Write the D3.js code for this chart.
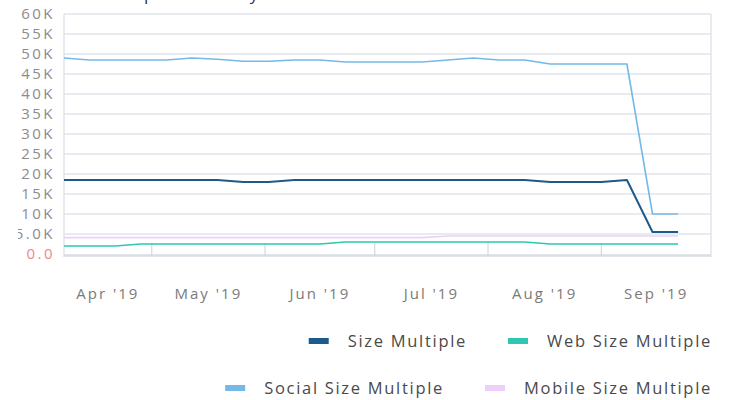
<!DOCTYPE html>
<html>
<head>
<meta charset="UTF-8" />
<script src="https://d3js.org/d3.v7.min.js"></script>
<style>
  body { margin: 0; background: #fff; font-family: "Open Sans", sans-serif; }
  svg text { font-family: "Open Sans", sans-serif; }
  .grid line { stroke: #e1e5eb; stroke-width: 1.5px; }
  .ylab { fill: #8c8c8c; font-size: 15px; letter-spacing: 2.5px; }
  .xlab { fill: #7a7a7a; font-size: 15px; letter-spacing: 2px; }
  .leg text { fill: #4a4a4a; font-size: 16.5px; letter-spacing: 1.7px; }
</style>
</head>
<body>
<svg width="730" height="400"></svg>
<script>
// weekly points, Sunday Apr 7 2019 .. Sep 22 2019
const weeks = ["2019-04-07","2019-04-14","2019-04-21","2019-04-28","2019-05-05","2019-05-12",
  "2019-05-19","2019-05-26","2019-06-02","2019-06-09","2019-06-16","2019-06-23","2019-06-30",
  "2019-07-07","2019-07-14","2019-07-21","2019-07-28","2019-08-04","2019-08-11","2019-08-18",
  "2019-08-25","2019-09-01","2019-09-08","2019-09-15","2019-09-22"];

const sizeMultiple   = [18.5,18.5,18.5,18.5,18.5,18.5,18.5,18.0,18.0,18.5,18.5,18.5,18.5,
  18.5,18.5,18.5,18.5,18.5,18.5,18.0,18.0,18.0,18.5,5.5,5.5];
const webMultiple    = [2.0,2.0,2.0,2.5,2.5,2.5,2.5,2.5,2.5,2.5,2.5,3.0,3.0,
  3.0,3.0,3.0,3.0,3.0,3.0,2.5,2.5,2.5,2.5,2.5,2.5];
const socialMultiple = [49.0,48.5,48.5,48.5,48.5,49.0,48.7,48.2,48.2,48.5,48.5,48.0,48.0,
  48.0,48.0,48.5,49.0,48.5,48.5,47.5,47.5,47.5,47.5,10.0,10.0];
const mobileMultiple = [4.1,4.1,4.1,4.1,4.1,4.1,4.1,4.1,4.1,4.1,4.1,4.1,4.1,
  4.1,4.1,4.5,4.5,4.5,4.5,4.5,4.5,4.5,4.5,4.5,4.5];

const yTicks = [0,5,10,15,20,25,30,35,40,45,50,55,60];
const yTickLabels = ["0.0","5.0K","10K","15K","20K","25K","30K","35K","40K","45K","50K","55K","60K"];
const monthStarts = ["2019-05-01","2019-06-01","2019-07-01","2019-08-01","2019-09-01"];
const monthLabels = ["Apr '19","May '19","Jun '19","Jul '19","Aug '19","Sep '19"];

const series = [
  { name: "Size Multiple", values: sizeMultiple, color: "#1d5a8c", width: 2 },
  { name: "Web Size Multiple", values: webMultiple, color: "#2ec7b1", width: 1.6 },
  { name: "Social Size Multiple", values: socialMultiple, color: "#74b9e7", width: 1.6 },
  { name: "Mobile Size Multiple", values: mobileMultiple, color: "#ecd0f8", width: 1.6 }
];

const parse = d3.utcParse("%Y-%m-%d");
const dates = weeks.map(parse);

const svg = d3.select("svg");
const plotLeft = 64, plotRight = 711, plotTop = 14, plotBottom = 254;

const x = d3.scaleUtc().domain([parse("2019-04-07"), parse("2019-10-01")]).range([plotLeft, plotRight]);
const y = d3.scaleLinear().domain([0, 60]).range([plotBottom, plotTop]);

// title, sitting above the top edge so only its descenders show
svg.append("text").attr("x", 47).attr("y", 0)
  .attr("font-size", 17).attr("fill", "#333").attr("letter-spacing", 2.1)
  .text("Size Multiples Weekly");

// gridlines
svg.append("g").attr("class", "grid")
  .selectAll("line").data(yTicks.slice(1)).join("line")
  .attr("x1", plotLeft).attr("x2", plotRight)
  .attr("y1", d => y(d)).attr("y2", d => y(d));

// frame
svg.append("line").attr("x1", plotLeft).attr("x2", plotLeft).attr("y1", plotTop).attr("y2", 257)
  .attr("stroke", "#e1e5eb").attr("stroke-width", 1.5);
svg.append("line").attr("x1", plotRight).attr("x2", plotRight).attr("y1", plotTop).attr("y2", 257)
  .attr("stroke", "#e1e5eb").attr("stroke-width", 1.5);
svg.append("line").attr("x1", plotLeft).attr("x2", plotRight).attr("y1", 255.5).attr("y2", 255.5)
  .attr("stroke", "#d9dee5").attr("stroke-width", 2.5);

// month tick marks
svg.append("g").selectAll("line").data(monthStarts.map(parse)).join("line")
  .attr("x1", d => x(d)).attr("x2", d => x(d))
  .attr("y1", 243).attr("y2", 256)
  .attr("stroke", "#d3d8df").attr("stroke-width", 1.2);

// y labels, clipped on the left like the original
svg.append("clipPath").attr("id", "ylabclip")
  .append("rect").attr("x", 18).attr("y", 0).attr("width", 50).attr("height", 280);
svg.append("g").attr("clip-path", "url(#ylabclip)")
  .selectAll("text").data(yTicks).join("text")
  .attr("class", "ylab")
  .attr("x", 55).attr("y", d => y(d)).attr("dy", "0.36em")
  .attr("text-anchor", "end")
  .style("fill", d => d === 0 ? "#f2888a" : null)
  .text((d, i) => yTickLabels[i]);

// x labels centred in each visible month span
const bounds = [x.domain()[0], ...monthStarts.map(parse), x.domain()[1]];
svg.append("g").selectAll("text").data(monthLabels).join("text")
  .attr("class", "xlab")
  .attr("x", (d, i) => (x(bounds[i]) + x(bounds[i + 1])) / 2)
  .attr("y", 299)
  .attr("text-anchor", "middle")
  .text(d => d);

// lines
const line = d3.line().x((d, i) => x(dates[i])).y(d => y(d));
const drawOrder = [1, 3, 0, 2];
svg.append("g").selectAll("path").data(drawOrder.map(i => series[i])).join("path")
  .attr("fill", "none")
  .attr("stroke", d => d.color)
  .attr("stroke-width", d => d.width)
  .attr("stroke-linejoin", "round")
  .attr("d", d => line(d.values));

// legend: two rows, right aligned
const rows = [[series[0], series[1]], [series[2], series[3]]];
const rowY = [341, 388];
rows.forEach((items, r) => {
  const g = svg.append("g").attr("class", "leg");
  let xpos = 712;
  for (let k = items.length - 1; k >= 0; k--) {
    const s = items[k];
    const t = g.append("text").attr("y", rowY[r]).attr("dy", "0.35em").text(s.name);
    const w = t.node().getComputedTextLength();
    t.attr("x", xpos - w);
    g.append("rect")
      .attr("x", xpos - w - 39).attr("y", rowY[r] - 3)
      .attr("width", 20).attr("height", 6)
      .attr("fill", s.color);
    xpos = xpos - w - 39 - 41;
  }
});
</script>
</body>
</html>
